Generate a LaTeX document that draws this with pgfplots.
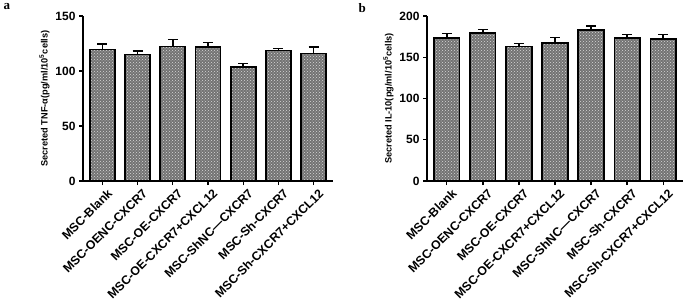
\documentclass[border=0pt]{standalone}
\usepackage{fontspec}
\setmainfont{Liberation Sans}
\newfontfamily\seriffont{Liberation Serif}
\usepackage{pgfplots}
\pgfplotsset{compat=1.18}
\usetikzlibrary{patterns}

\pgfplotsset{
  panel/.style={
    scale only axis,
    height=165pt,
    axis lines*=left,
    axis line style={line width=1.6pt},
    ymin=0,
    xmin=-0.55, xmax=6.55,
    xtick={0,...,6},
    xticklabels={MSC-Blank,MSC-OENC-CXCR7,MSC-OE-CXCR7,MSC-OE-CXCR7+CXCL12,MSC-ShNC---CXCR7,MSC-Sh-CXCR7,MSC-Sh-CXCR7+CXCL12},
    x tick label style={rotate=45, anchor=north east, inner sep=0pt, yshift=-5pt, xshift=1pt, font=\bfseries\fontsize{12.3}{13}\selectfont},
    y tick label style={font=\bfseries\fontsize{12}{13}\selectfont},
    /pgf/number format/assume math mode=true,
    tick align=outside,
    major tick length=4pt,
    tick style={line width=1.3pt, black},
    ylabel style={font=\bfseries\fontsize{9.2}{10}\selectfont, yshift=-1pt},
    ybar, bar width=0.71,
    clip=false,
  },
  barstyle/.style={
    draw=black, line width=1.6pt,
    fill=black!55,
    postaction={pattern=crosshatch dots, pattern color=white!85!black},
    error bars/.cd, y dir=plus, y explicit,
    error bar style={line width=1.5pt, black},
    error mark options={rotate=90, mark size=5pt, line width=1.5pt, black},
  },
}

\begin{document}
\begin{tikzpicture}
\begin{axis}[panel, name=A, width=250pt, ymax=150, ytick={0,50,100,150},
  ylabel={Secreted TNF-α(pg/ml/10\textsuperscript{5}cells)}]
\addplot[barstyle] coordinates {
  (0,119.7) +- (0,4.9)
  (1,114.9) +- (0,3.3)
  (2,122.2) +- (0,6.6)
  (3,121.6) +- (0,4.5)
  (4,103.4) +- (0,3.6)
  (5,118.6) +- (0,1.8)
  (6,115.8) +- (0,5.8)
};
\node[font=\seriffont\bfseries\fontsize{13}{14}\selectfont, anchor=north west] at ([xshift=-83pt,yshift=16pt]rel axis cs:0,1) {a};
\end{axis}

\begin{axis}[panel, name=B, xshift=344pt, width=256pt, ymax=200, ytick={0,50,100,150,200},
  ylabel={Secreted IL-10(pg/ml/10\textsuperscript{5}cells)}]
\addplot[barstyle] coordinates {
  (0,173.0) +- (0,5.6)
  (1,179.4) +- (0,4.1)
  (2,162.9) +- (0,4.0)
  (3,167.3) +- (0,6.5)
  (4,182.7) +- (0,5.2)
  (5,173.0) +- (0,4.4)
  (6,172.2) +- (0,5.6)
};
\node[font=\seriffont\bfseries\fontsize{13}{14}\selectfont, anchor=north west] at ([xshift=-72pt,yshift=16pt]rel axis cs:0,1) {b};
\end{axis}
\pgfresetboundingbox
\path[use as bounding box] ([xshift=-83pt,yshift=16pt]A.north west) rectangle ([xshift=2pt,yshift=-123pt]B.south east);
\end{tikzpicture}
\end{document}
